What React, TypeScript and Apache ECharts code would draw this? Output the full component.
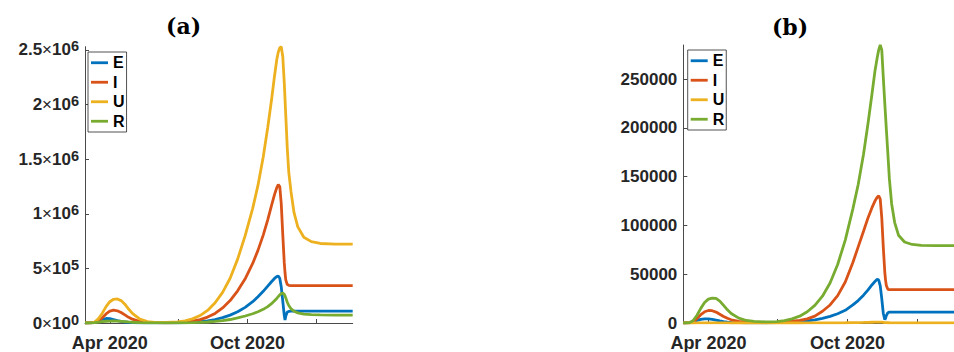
import React, { useEffect, useRef } from 'react';
import * as echarts from 'echarts';

// Sample dates (daily model output, sampled)
const dates = [
  '2020-02-28', '2020-03-07', '2020-03-12', '2020-03-17', '2020-03-22', '2020-03-27',
  '2020-04-01', '2020-04-06', '2020-04-11', '2020-04-16', '2020-04-21', '2020-04-26',
  '2020-05-01', '2020-05-11', '2020-05-21', '2020-05-31', '2020-06-15', '2020-06-30',
  '2020-07-10', '2020-07-20', '2020-07-30', '2020-08-09', '2020-08-19', '2020-08-29',
  '2020-09-08', '2020-09-18', '2020-09-28', '2020-10-08', '2020-10-15', '2020-10-22',
  '2020-10-28', '2020-11-02', '2020-11-06', '2020-11-09', '2020-11-11', '2020-11-13',
  '2020-11-15', '2020-11-17', '2020-11-19', '2020-11-20', '2020-11-21', '2020-11-23',
  '2020-11-25', '2020-11-28', '2020-12-02', '2020-12-07', '2020-12-15', '2020-12-25',
  '2021-01-06', '2021-01-26', '2021-02-18',
];

// Panel (a)
const E_a = [
  0, 1500, 8000, 21000, 34000, 41000, 40000, 32000, 22000, 14000, 9000, 5500,
  3500, 1500, 800, 600, 800, 1800, 3500, 7000, 12000, 20000, 32000, 49000,
  72000, 103000, 143000, 195000, 240000, 290000, 338000, 378000, 408000, 425000, 430000, 410000,
  330000, 200000, 70000, 27000, 65000, 100000, 106000, 108000, 108000, 108000, 108000, 108000,
  108000, 108000, 108000,
];
const I_a = [
  0, 300, 4000, 18000, 48000, 83000, 108000, 117000, 112000, 96000, 74000, 52000,
  35000, 14000, 5500, 2800, 2200, 4000, 8500, 17000, 31000, 54000, 88000, 138000,
  205000, 295000, 405000, 545000, 665000, 805000, 945000, 1075000, 1175000, 1238000, 1268000, 1250000,
  1090000, 810000, 550000, 460000, 395000, 352000, 345000, 343000, 343000, 343000, 343000, 343000,
  343000, 343000, 343000,
];
const U_a = [
  0, 500, 8000, 40000, 90000, 150000, 195000, 217000, 220000, 205000, 172000, 128000,
  88000, 35000, 13000, 6000, 5000, 10000, 20000, 38000, 68000, 115000, 185000, 280000,
  410000, 585000, 800000, 1050000, 1260000, 1520000, 1790000, 2040000, 2260000, 2410000, 2480000, 2520000,
  2530000, 2440000, 2200000, 2050000, 1900000, 1600000, 1380000, 1200000, 1010000, 880000, 785000, 745000,
  728000, 722000, 722000,
];
const R_a = [
  0, 300, 2500, 7000, 12000, 16000, 18000, 18500, 17500, 15500, 12500, 9500,
  7000, 3500, 1800, 1000, 700, 900, 1600, 3000, 5500, 9000, 14500, 22000,
  32000, 46000, 64000, 85000, 103000, 125000, 150000, 177000, 203000, 225000, 242000, 258000,
  270000, 273000, 262000, 248000, 230000, 190000, 160000, 130000, 108000, 93000, 82000, 77000,
  74500, 73000, 73000,
];

// Panel (b)
const E_b = [
  0, 300, 1200, 2600, 3700, 4300, 4300, 3700, 2900, 2100, 1500, 1000,
  700, 350, 200, 150, 150, 300, 550, 900, 1400, 2200, 3300, 4800,
  6800, 9500, 13000, 18500, 23000, 28500, 34000, 39000, 42500, 44800, 44000, 38000,
  25000, 10000, 3300, 5000, 7500, 10500, 11100, 11150, 11150, 11150, 11150, 11150,
  11150, 11150, 11150,
];
const I_b = [
  0, 200, 1500, 4500, 8500, 11500, 12800, 12600, 11200, 9000, 6700, 4800,
  3300, 1600, 800, 500, 400, 600, 1000, 1800, 2800, 4200, 7000, 12000,
  18500, 28000, 42000, 62000, 78000, 94000, 108000, 118000, 125000, 129000, 130500, 127000,
  108000, 78000, 52000, 44000, 38500, 34500, 34200, 34200, 34200, 34200, 34200, 34200,
  34200, 34200, 34200,
];
const U_b = [
  0, 0, 10, 30, 60, 80, 90, 90, 80, 60, 45, 30,
  20, 10, 5, 3, 3, 5, 10, 15, 25, 40, 60, 90,
  130, 190, 270, 380, 470, 570, 680, 770, 830, 870, 880, 870,
  800, 650, 480, 400, 330, 260, 240, 230, 230, 230, 230, 230,
  230, 230, 230,
];
const R_b = [
  0, 300, 2500, 8000, 15000, 21000, 24500, 25500, 25300, 22500, 18000, 13500,
  9800, 5000, 2600, 1600, 1200, 1500, 2500, 4200, 7000, 11500, 18000, 27500,
  41000, 60000, 85000, 117000, 142000, 173000, 205000, 234000, 258000, 272000, 280000, 285000,
  280000, 252000, 225000, 212000, 199000, 174000, 148000, 122000, 103000, 90000, 83000, 80500,
  79500, 79400, 79400,
];

const seriesNames = ['E', 'I', 'U', 'R'];
const seriesColors = ['#0072BD', '#D95319', '#EDB120', '#77AC30'];
const yTicksA = [0, 500000, 1000000, 1500000, 2000000, 2500000];
const yTicksB = [0, 50000, 100000, 150000, 200000, 250000];
const xTickDates = ['2020-04-01', '2020-07-01', '2020-10-01', '2021-01-01'];
const xLabelDates = ['2020-04-01', '2020-10-01'];
const MONTHS = ['Jan', 'Feb', 'Mar', 'Apr', 'May', 'Jun', 'Jul', 'Aug', 'Sep', 'Oct', 'Nov', 'Dec'];
const panelTitles = ['(a)', '(b)'];

function toTs(s: string): number {
  const [y, m, d] = s.split('-').map(Number);
  return new Date(y, m - 1, d).getTime();
}

function sciLabel(v: number): string {
  if (v === 0) return '{m|0}{x|×}{m|10}{s|0}';
  const e = Math.floor(Math.log10(v) + 1e-9);
  const mant = +(v / Math.pow(10, e)).toFixed(2);
  return `{m|${mant}}{x|×}{m|10}{s|${e}}`;
}

const FONT = '"Liberation Sans", Arial, Helvetica, sans-serif';
const TXT = '#262626';
const AXIS = '#4a4a4a';

export default function App() {
  const ref = useRef<HTMLDivElement>(null);
  useEffect(() => {
    document.body.style.margin = '0';
    if (!ref.current) return;
    const chart = echarts.init(ref.current, undefined, { renderer: 'svg' });

    const xMin = toTs('2020-02-28');
    const xMax = toTs('2021-02-18');
    const makeX = (gridIndex: number) => ({
      type: 'value',
      gridIndex,
      min: xMin,
      max: xMax,
      axisLine: { show: true, onZero: false, lineStyle: { color: AXIS, width: 1 } },
      axisTick: { show: true, inside: true, length: 4, customValues: xTickDates.map(toTs), lineStyle: { color: AXIS } },
      axisLabel: {
        customValues: xLabelDates.map(toTs),
        formatter: (v: number) => {
          const d = new Date(v);
          return MONTHS[d.getMonth()] + ' ' + d.getFullYear();
        },
        fontSize: 18,
        fontWeight: 'bold',
        fontFamily: FONT,
        color: TXT,
        margin: 11,
      },
      splitLine: { show: false },
    });

    const richA = {
      m: { fontSize: 17, fontWeight: 'bold', fontFamily: FONT, color: TXT, lineHeight: 22 },
      x: { fontSize: 17, fontWeight: 'normal', fontFamily: FONT, color: TXT, lineHeight: 22 },
      s: { fontSize: 14.5, fontWeight: 'bold', fontFamily: FONT, color: TXT, lineHeight: 14, verticalAlign: 'top' },
    };

    const mkSeries = (arrs: number[][], axisIdx: number) =>
      arrs.map((arr, k) => ({
        name: seriesNames[k],
        type: 'line',
        xAxisIndex: axisIdx,
        yAxisIndex: axisIdx,
        data: dates.map((d, i) => [toTs(d), arr[i]]),
        showSymbol: false,
        symbol: 'none',
        lineStyle: { width: 2.8, color: seriesColors[k] },
        itemStyle: { color: seriesColors[k] },
        color: seriesColors[k],
        z: 2 + k,
      }));

    const legendBase = {
      data: seriesNames,
      orient: 'vertical',
      icon: 'rect',
      itemWidth: 17,
      itemHeight: 2.8,
      itemGap: 0,
      selectedMode: false,
      padding: [1, 2, 1, 3],
      borderColor: '#262626',
      borderWidth: 0.8,
      backgroundColor: '#fff',
      textStyle: { fontSize: 16, fontWeight: 'bold', fontFamily: FONT, color: '#000', lineHeight: 19.5 },
    };

    chart.setOption({
      animation: false,
      backgroundColor: '#fff',
      grid: [
        { left: 85, top: 46.7, width: 267.7, height: 280.3, containLabel: false },
        { left: 683.3, top: 45, width: 278.7, height: 281, containLabel: false },
      ],
      xAxis: [makeX(0), makeX(1)],
      yAxis: [
        {
          type: 'value',
          gridIndex: 0,
          min: 0,
          max: 2530000,
          axisLine: { show: true, onZero: false, lineStyle: { color: AXIS, width: 1 } },
          axisTick: { show: true, inside: true, length: 4, customValues: yTicksA, lineStyle: { color: AXIS } },
          axisLabel: { customValues: yTicksA, formatter: (v: number) => sciLabel(v), rich: richA, margin: 6 },
          splitLine: { show: false },
        },
        {
          type: 'value',
          gridIndex: 1,
          min: 0,
          max: 285000,
          axisLine: { show: true, onZero: false, lineStyle: { color: AXIS, width: 1 } },
          axisTick: { show: true, inside: true, length: 4, customValues: yTicksB, lineStyle: { color: AXIS } },
          axisLabel: {
            customValues: yTicksB,
            formatter: (v: number) => String(v),
            fontSize: 17,
            fontWeight: 'bold',
            fontFamily: FONT,
            color: TXT,
            margin: 6,
          },
          splitLine: { show: false },
        },
      ],
      legend: [
        { ...legendBase, left: 88, top: 52 },
        { ...legendBase, left: 687.7, top: 50 },
      ],
      graphic: [
        {
          type: 'text',
          x: 183.5,
          y: 26,
          style: {
            text: panelTitles[0],
            fill: '#000',
            font: 'bold 22px "DejaVu Serif", serif',
            align: 'center',
            verticalAlign: 'middle',
          },
        },
        {
          type: 'text',
          x: 790,
          y: 27,
          style: {
            text: panelTitles[1],
            fill: '#000',
            font: 'bold 22px "DejaVu Serif", serif',
            align: 'center',
            verticalAlign: 'middle',
          },
        },
      ],
      series: [
        ...mkSeries([E_a, I_a, U_a, R_a], 0),
        ...mkSeries([E_b, I_b, U_b, R_b], 1),
      ],
    });
    return () => chart.dispose();
  }, []);

  return (
    <div
      ref={ref}
      style={{ position: 'absolute', left: 0, top: 0, width: 954, height: 352, background: '#fff' }}
    />
  );
}
